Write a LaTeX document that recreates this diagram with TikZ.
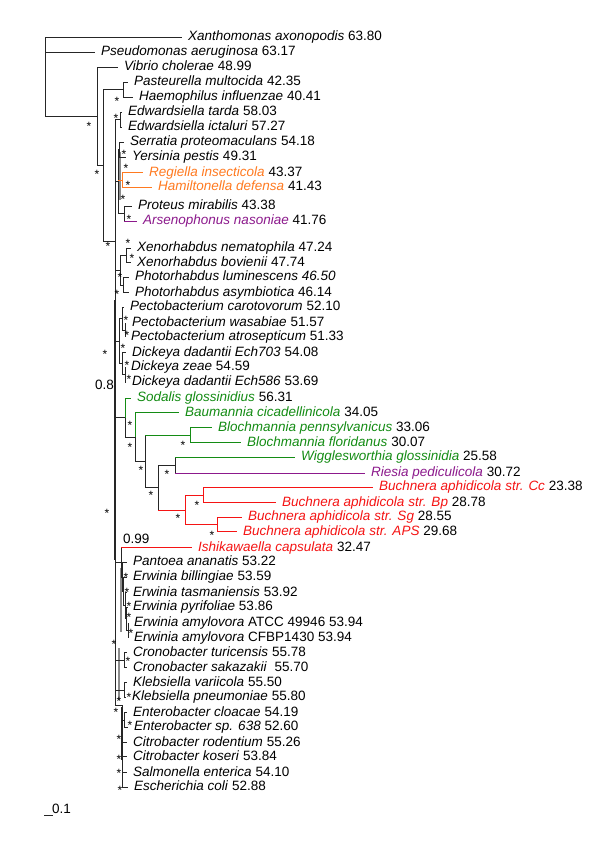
\documentclass[tikz,border=0pt]{standalone}
\usepackage{fontspec}
\setmainfont{Liberation Sans}
\definecolor{orng}{RGB}{255,122,32}
\definecolor{purp}{RGB}{140,25,140}
\definecolor{grn}{RGB}{20,140,20}
\definecolor{rd}{RGB}{245,20,20}
\newcommand\HL[3][]{\draw[br,#1] (#2 |- #3.west) -- ([xshift=-6pt]#3.west);}
\newcommand\HB[3][]{\draw[br,#1] (#2 |- #3) -- (#3);}
\newcommand\VB[4][]{\draw[br,#1] (#2 |- #3) -- (#2 |- #4);}
\begin{document}
\begin{tikzpicture}[x=1pt,y=-1pt,
  lab/.style={anchor=west,inner sep=0pt,font=\fontsize{13.5}{15}\selectfont,text height=10pt,text depth=3pt},
  ast/.style={inner sep=0pt,font=\fontsize{12}{12}\selectfont,yshift=-2pt},
  br/.style={color=black!85,line width=0.95pt},
  gb/.style={color=black!45,line width=2pt}]
\useasboundingbox[fill=white] (0,0) rectangle (600,841);
% ---------- leaves ----------
\node[lab] (l1) at (188,37.3) {\textit{Xanthomonas axonopodis} 63.80};
\node[lab] (l2) at (101,52.3) {\textit{Pseudomonas aeruginosa} 63.17};
\node[lab] (l3) at (124,67.3) {\textit{Vibrio cholerae} 48.99};
\node[lab] (l4) at (134,82.3) {\textit{Pasteurella multocida} 42.35};
\node[lab] (l5) at (139,97.3) {\textit{Haemophilus influenzae} 40.41};
\node[lab] (l6) at (128,112.3) {\textit{Edwardsiella tarda} 58.03};
\node[lab] (l7) at (128,127.3) {\textit{Edwardsiella ictaluri} 57.27};
\node[lab] (l8) at (130,142.3) {\textit{Serratia proteomaculans} 54.18};
\node[lab] (l9) at (132,157) {\textit{Yersinia pestis} 49.31};
\node[lab] (l10) at (149,172.7) {\textcolor{orng}{\textit{Regiella insecticola}} 43.37};
\node[lab] (l11) at (158,187.3) {\textcolor{orng}{\textit{Hamiltonella defensa}} 41.43};
\node[lab] (l12) at (138,206) {\textit{Proteus mirabilis} 43.38};
\node[lab] (l13) at (143,221) {\textcolor{purp}{\textit{Arsenophonus nasoniae}} 41.76};
\node[lab] (l14) at (137,248) {\textit{Xenorhabdus nematophila} 47.24};
\node[lab] (l15) at (137,262.7) {\textit{Xenorhabdus bovienii} 47.74};
\node[lab] (l16) at (135,277.3) {\textit{Photorhabdus luminescens 46.50}};
\node[lab] (l17) at (135,292.7) {\textit{Photorhabdus asymbiotica} 46.14};
\node[lab] (l18) at (130,307) {\textit{Pectobacterium carotovorum} 52.10};
\node[lab] (l19) at (132,323) {\textit{Pectobacterium wasabiae} 51.57};
\node[lab] (l20) at (131,337) {\textit{Pectobacterium atrosepticum} 51.33};
\node[lab] (l21) at (132,352.7) {\textit{Dickeya dadantii Ech703} 54.08};
\node[lab] (l22) at (131,367.3) {\textit{Dickeya zeae} 54.59};
\node[lab] (l23) at (132,382) {\textit{Dickeya dadantii Ech586} 53.69};
\node[lab] (l24) at (137,398) {\textcolor{grn}{\textit{Sodalis glossinidius}} 56.31};
\node[lab] (l25) at (185,412.7) {\textcolor{grn}{\textit{Baumannia cicadellinicola}} 34.05};
\node[lab] (l26) at (218,427.7) {\textcolor{grn}{\textit{Blochmannia pennsylvanicus}} 33.06};
\node[lab] (l27) at (247,442.7) {\textcolor{grn}{\textit{Blochmannia floridanus}} 30.07};
\node[lab] (l28) at (301,457.3) {\textcolor{grn}{\textit{Wigglesworthia glossinidia}} 25.58};
\node[lab] (l29) at (371,473) {\textcolor{purp}{\textit{Riesia pediculicola}} 30.72};
\node[lab] (l30) at (379,487.3) {\textcolor{rd}{\textit{Buchnera aphidicola str. Cc}} 23.38};
\node[lab] (l31) at (282,502.7) {\textcolor{rd}{\textit{Buchnera aphidicola str. Bp}} 28.78};
\node[lab] (l32) at (248,517.3) {\textcolor{rd}{\textit{Buchnera aphidicola str. Sg}} 28.55};
\node[lab] (l33) at (243,531.7) {\textcolor{rd}{\textit{Buchnera aphidicola str. APS}} 29.68};
\node[lab] (l34) at (198,547.7) {\textcolor{rd}{\textit{Ishikawaella capsulata}} 32.47};
\node[lab] (l35) at (133,562.3) {\textit{Pantoea ananatis} 53.22};
\node[lab] (l36) at (133,577.3) {\textit{Erwinia billingiae} 53.59};
\node[lab] (l37) at (133,592.7) {\textit{Erwinia tasmaniensis} 53.92};
\node[lab] (l38) at (133,607) {\textit{Erwinia pyrifoliae} 53.86};
\node[lab] (l39) at (134,623.3) {\textit{Erwinia amylovora} ATCC 49946 53.94};
\node[lab] (l40) at (134,638.3) {\textit{Erwinia amylovora} CFBP1430 53.94};
\node[lab] (l41) at (133,652.7) {\textit{Cronobacter turicensis} 55.78};
\node[lab] (l42) at (133,667.7) {\textit{Cronobacter sakazakii}\ \ 55.70};
\node[lab] (l43) at (133,682.7) {\textit{Klebsiella variicola} 55.50};
\node[lab] (l44) at (132,697.3) {\textit{Klebsiella pneumoniae} 55.80};
\node[lab] (l45) at (133,712.7) {\textit{Enterobacter cloacae} 54.19};
\node[lab] (l46) at (134,727.3) {\textit{Enterobacter sp. 638} 52.60};
\node[lab] (l47) at (133,742.7) {\textit{Citrobacter rodentium} 55.26};
\node[lab] (l48) at (133,756.7) {\textit{Citrobacter koseri} 53.84};
\node[lab] (l49) at (133,772.7) {\textit{Salmonella enterica} 54.10};
\node[lab] (l50) at (134,787.3) {\textit{Escherichia coli} 52.88};
% ---------- internal nodes ----------
\coordinate (r) at (45,77);
\coordinate (nA) at (97,116.7);
\coordinate (nB) at (103,165.4);
\coordinate (nP) at (123,89.8);
\coordinate (nC) at (115,241);
\coordinate (nEd) at (120,119.8);
\coordinate (nS) at (118,181.5);
\coordinate (nSY) at (119,149.6);
\coordinate (nRH) at (122,180);
\coordinate (nPA) at (124,213.5);
\coordinate (nXP) at (120,270);
\coordinate (nX) at (126,255.4);
\coordinate (nPh) at (123,285);
\coordinate (nPD) at (119,341);
\coordinate (nPc) at (122,318.5);
\coordinate (nPw) at (125,330);
\coordinate (nD) at (122,363.7);
\coordinate (nDz) at (125,374.6);
\coordinate (N1) at (125,417.5);
\coordinate (N2) at (135,437);
\coordinate (N3) at (145,461);
\coordinate (nBl) at (190,435.2);
\coordinate (N4) at (158,487.5);
\coordinate (nWR) at (175,465.2);
\coordinate (nBu) at (185,510);
\coordinate (nCB) at (203,495);
\coordinate (nSA) at (217,524.5);
\coordinate (nI) at (121,562);
\coordinate (nPE) at (122,577);
\coordinate (nE) at (123.5,591.5);
\coordinate (nE2) at (125,605.8);
\coordinate (nE3) at (126.5,618.9);
\coordinate (nE4) at (128,630.8);
\coordinate (nCr) at (124,660.2);
\coordinate (nKl) at (124,690);
\coordinate (nL) at (122,705);
\coordinate (nEn) at (124,720);
% ---------- shading of overlapping short branches ----------
\draw[gb] (119.5,152) -- (119.5,200);
\draw[gb] (121,568) -- (121,632);
\draw[gb] (119,648) -- (119,700);
% ---------- branches ----------
\VB{r}{l1.west}{nA} \HL{r}{l1} \HL{r}{l2} \HB{r}{nA}
\VB{nA}{l3.west}{nB} \HL{nA}{l3} \HB{nA}{nB}
\VB{nB}{nP}{nC} \HB{nB}{nP} \HB{nB}{nC}
\VB{nP}{l4.west}{l5.west} \HL{nP}{l4} \HL{nP}{l5}
% spine
\VB{nC}{nEd}{nL}
\draw[br,line width=1.8pt] (nC |- 0,300) -- (nC |- 0,560);
\HB{nC}{nEd} \HB{nC}{nS} \HB{nC}{nXP} \HB{nC}{nPD} \HB{nC}{N1}
\HB{nC}{nI} \HB{nC}{nCr} \HB{nC}{nKl} \HB{nC}{nL}
\VB{nEd}{l6.west}{l7.west} \HL{nEd}{l6} \HL{nEd}{l7}
\VB{nS}{nSY}{nPA} \HB{nS}{nSY} \HB[orng]{nS}{nRH} \HB{nS}{nPA}
\VB{nSY}{l8.west}{l9.west} \HL{nSY}{l8} \HL{nSY}{l9}
\VB[orng]{nRH}{l10.west}{l11.west} \HL[orng]{nRH}{l10} \HL[orng]{nRH}{l11}
\VB{nPA}{l12.west}{l13.west} \HL{nPA}{l12} \HL[purp]{nPA}{l13}
\VB{nXP}{nX}{nPh} \HB{nXP}{nX} \HB{nXP}{nPh}
\VB{nX}{l14.west}{l15.west} \HL{nX}{l14} \HL{nX}{l15}
\VB{nPh}{l16.west}{l17.west} \HL{nPh}{l16} \HL{nPh}{l17}
\VB{nPD}{nPc}{nD} \HB{nPD}{nPc} \HB{nPD}{nD}
\VB{nPc}{l18.west}{nPw} \HL{nPc}{l18} \HB{nPc}{nPw}
\VB{nPw}{l19.west}{l20.west} \HL{nPw}{l19} \HL{nPw}{l20}
\VB{nD}{l21.west}{nDz} \HL{nD}{l21} \HB{nD}{nDz}
\VB{nDz}{l22.west}{l23.west} \HL{nDz}{l22} \HL{nDz}{l23}
% insect endosymbiont clade
\VB[grn]{N1}{l24.west}{N1} \VB{N1}{N1}{N2} \HL[grn]{N1}{l24} \HB{N1}{N2}
\VB[grn]{N2}{l25.west}{N2} \VB{N2}{N2}{N3} \HL[grn]{N2}{l25} \HB{N2}{N3}
\VB{N3}{nBl}{N4} \HB[grn]{N3}{nBl} \HB{N3}{N4}
\VB[grn]{nBl}{l26.west}{l27.west} \HL[grn]{nBl}{l26} \HL[grn]{nBl}{l27}
\VB{N4}{nWR}{nBu} \HB{N4}{nWR} \HB[rd]{N4}{nBu}
\VB{nWR}{l28.west}{l29.west} \HL[grn]{nWR}{l28} \HL[purp]{nWR}{l29}
\VB[rd]{nBu}{nCB}{nSA} \HB[rd]{nBu}{nCB} \HB[rd]{nBu}{nSA}
\VB[rd]{nCB}{l30.west}{l31.west} \HL[rd]{nCB}{l30} \HL[rd]{nCB}{l31}
\VB[rd]{nSA}{l32.west}{l33.west} \HL[rd]{nSA}{l32} \HL[rd]{nSA}{l33}
% Ishikawaella / Pantoea / Erwinia
\VB{nI}{l34.west}{nPE} \HL[rd]{nI}{l34} \HB{nI}{nPE}
\VB{nPE}{l35.west}{nE} \HL{nPE}{l35} \HB{nPE}{nE}
\VB{nE}{l36.west}{nE2} \HL{nE}{l36} \HB{nE}{nE2}
\VB{nE2}{l37.west}{nE3} \HL{nE2}{l37} \HB{nE2}{nE3}
\VB{nE3}{l38.west}{nE4} \HL{nE3}{l38} \HB{nE3}{nE4}
\VB{nE4}{l39.west}{l40.west} \HL{nE4}{l39} \HL{nE4}{l40}
\VB{nCr}{l41.west}{l42.west} \HL{nCr}{l41} \HL{nCr}{l42}
\VB{nKl}{l43.west}{l44.west} \HL{nKl}{l43} \HL{nKl}{l44}
% ladder
\VB{nL}{nL}{l50.west}
\draw[br,line width=1.8pt] (nL |- 0,707) -- (nL |- 0,760);
\HB{nL}{nEn} \HL{nL}{l47} \HL{nL}{l48} \HL{nL}{l49} \HL{nL}{l50}
\VB{nEn}{l45.west}{l46.west} \HL{nEn}{l45} \HL{nEn}{l46}
% ---------- support values ----------
\node[ast] (s1) at (89,124) {*};
\node[ast] (s2) at (97,172) {*};
\node[ast] (s3) at (117,99) {*};
\node[ast] (s4) at (116,116) {*};
\node[ast] (s5) at (124,152) {*};
\node[ast] (s6) at (126,166) {*};
\node[ast] (s7) at (128,183) {*};
\node[ast] (s8) at (123,197) {*};
\node[ast] (s9) at (129,217) {*};
\node[ast] (s10) at (108,244) {*};
\node[ast] (s11) at (128,241) {*};
\node[ast] (s12) at (132,256) {*};
\node[ast] (s13) at (120,275) {*};
\node[ast] (s14) at (117,292) {*};
\node[ast] (s15) at (126,318) {*};
\node[ast] (s16) at (127,333) {*};
\node[ast] (s17) at (123,346) {*};
\node[ast] (s18) at (105,352) {*};
\node[ast] (s19) at (127,363) {*};
\node[ast] (s20) at (129,377) {*};
\node[ast] (s21) at (130,423) {*};
\node[ast] (s22) at (130,445) {*};
\node[ast] (s23) at (183,443) {*};
\node[ast] (s24) at (141,468) {*};
\node[ast] (s25) at (167,472) {*};
\node[ast] (s26) at (151,493) {*};
\node[ast] (s27) at (197,503) {*};
\node[ast] (s28) at (178,516) {*};
\node[ast] (s29) at (212,533) {*};
\node[ast] (s30) at (107,511) {*};
\node[ast] (s31) at (126,575) {*};
\node[ast] (s32) at (127,590) {*};
\node[ast] (s33) at (129,604) {*};
\node[ast] (s34) at (129,615) {*};
\node[ast] (s35) at (131,631) {*};
\node[ast] (s36) at (114,642) {*};
\node[ast] (s37) at (128,659) {*};
\node[ast] (s38) at (129,695) {*};
\node[ast] (s39) at (119,699) {*};
\node[ast] (s40) at (116,710) {*};
\node[ast] (s41) at (130,723) {*};
\node[ast] (s42) at (119,737) {*};
\node[ast] (s43) at (119,757) {*};
\node[ast] (s44) at (119,771) {*};
\node[ast] (s45) at (120,788) {*};
\node[lab] (b08) at (95,386) {0.8};
\node[lab] (b099) at (123,540) {0.99};
% ---------- scale bar ----------
\coordinate (sbl) at (44,815);
\coordinate (sbr) at (53,815);
\draw[br] (sbl) -- (sbr);
\node[lab] (sb) at (52,810) {0.1};
\end{tikzpicture}
\end{document}
